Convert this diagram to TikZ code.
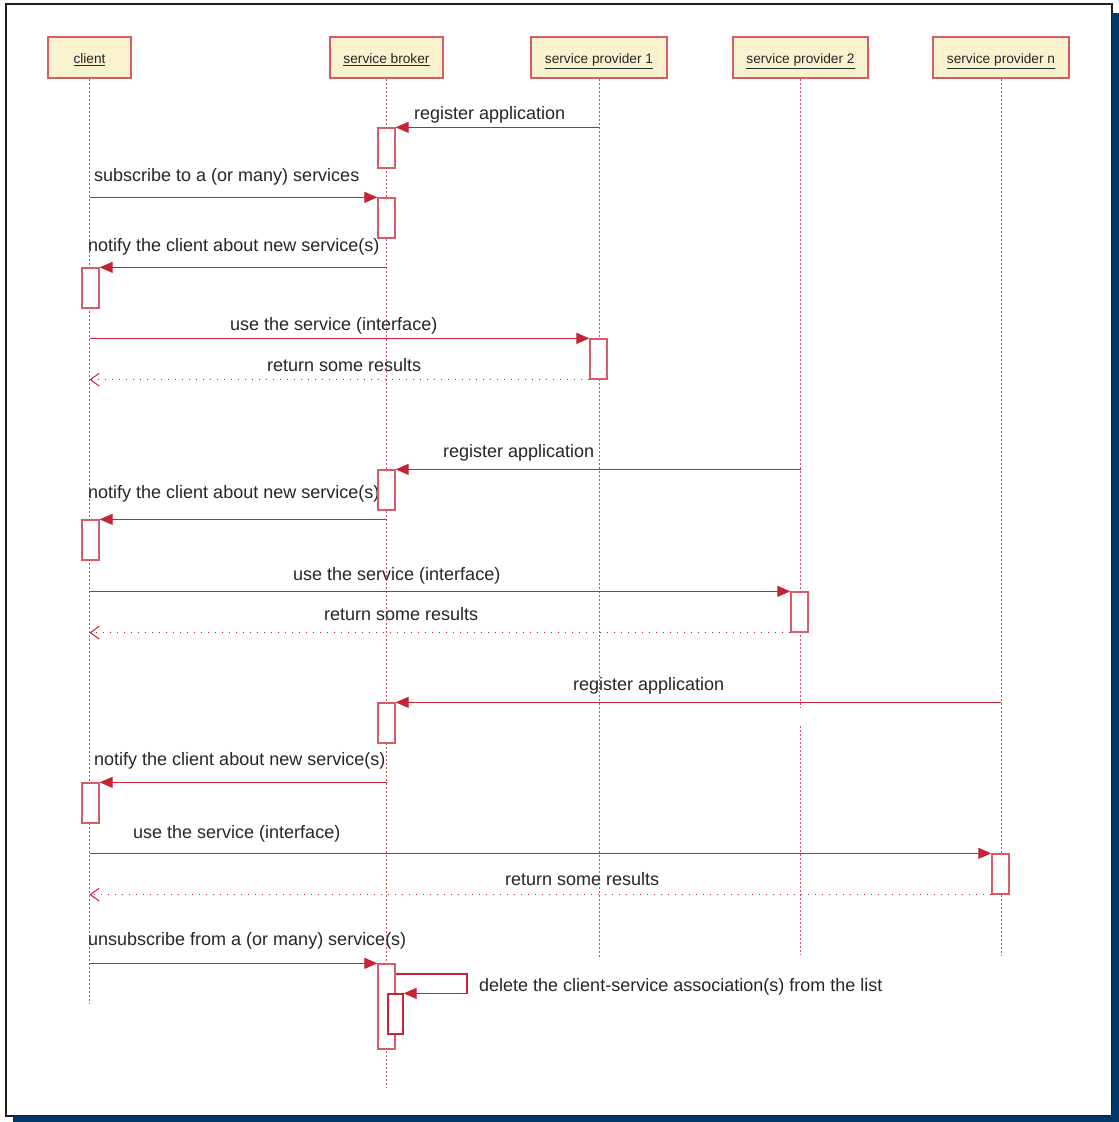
\documentclass[tikz,border=0pt]{standalone}
\usepackage{fontspec}
\setmainfont{Liberation Sans}
\usetikzlibrary{arrows.meta}
\definecolor{umlred}{RGB}{196,36,52}
\definecolor{lifered}{RGB}{206,78,94}
\definecolor{headfill}{RGB}{248,243,206}
\definecolor{headdraw}{RGB}{214,92,102}
\definecolor{navy}{RGB}{0,54,104}
\definecolor{ink}{RGB}{38,38,38}
\tikzset{
  head/.style={draw=headdraw, fill=headfill, line width=1.3pt, minimum height=41pt,
    inner sep=0, text height=14pt, text depth=1.5pt,
    font=\fontsize{13.7}{16}\selectfont, text=ink},
  life/.style={draw=lifered, line width=1pt, dash pattern=on 2pt off 2pt},
  act/.style={draw=headdraw, fill=white, line width=1.3pt, minimum width=17pt,
    minimum height=40pt, inner sep=0},
  msg/.style={draw=umlred, line width=1.2pt, -{Triangle[length=13pt,width=11pt]}},
  ret/.style={draw=umlred, line width=1pt, dash pattern=on 1.5pt off 5.5pt,
    -{Straight Barb[length=9pt,width=13pt,line width=1pt]}},
  lbl/.style={anchor=west, inner sep=0, yshift=-2pt, font=\fontsize{18}{21}\selectfont, text=ink}
}
\begin{document}
\begin{tikzpicture}[x=1pt,y=-1pt]
  \useasboundingbox (0,0) rectangle (1119,1122);
  % page frame with its shadow
  \fill[navy] (13,13) rectangle (1119,1122);
  \filldraw[fill=white, draw=black!88, line width=2.2pt] (6,4) rectangle (1112,1116);
  \fill[navy] (1112,13) rectangle (1119,1122);
  \fill[navy] (13,1116) rectangle (1119,1122);

  % participants
  \node[head, minimum width=83pt]  (cl)  at (89.5,57.5)  {\underline{client}};
  \node[head, minimum width=113pt] (br)  at (386.5,57.5) {\underline{service broker}};
  \node[head, minimum width=136pt] (sp1) at (599,57.5)   {\underline{service provider 1}};
  \node[head, minimum width=135pt] (sp2) at (800.5,57.5) {\underline{service provider 2}};
  \node[head, minimum width=136pt] (spn) at (1001,57.5)  {\underline{service provider n}};

  % lifelines
  \coordinate (clEnd)  at (89.5,1003);
  \coordinate (brEnd)  at (386.5,1087);
  \coordinate (sp1End) at (599,958);
  \coordinate (sp2Cut) at (800.5,708);
  \coordinate (sp2Res) at (800.5,726);
  \coordinate (sp2End) at (800.5,955);
  \coordinate (spnEnd) at (1001,955);
  \draw[life] (cl.south)  -- (clEnd);
  \draw[life] (br.south)  -- (brEnd);
  \draw[life] (sp1.south) -- (sp1End);
  \draw[life] (sp2.south) -- (sp2Cut);
  \draw[life] (sp2Res)    -- (sp2End);
  \draw[life] (spn.south) -- (spnEnd);

  % message labels
  \node[lbl] (t1)  at (414,113) {register application};
  \node[lbl] (t2)  at (94,175)  {subscribe to a (or many) services};
  \node[lbl] (t3)  at (88,245)  {notify the client about new service(s)};
  \node[lbl] (t4)  at (230,324) {use the service (interface)};
  \node[lbl] (t5)  at (267,363) {return some results};
  \node[lbl] (t6)  at (443,451) {register application};
  \node[lbl] (t7)  at (88,492)  {notify the client about new service(s)};
  \node[lbl] (t8)  at (293,574) {use the service (interface)};
  \node[lbl] (t9)  at (324,612) {return some results};
  \node[lbl] (t10) at (573,684) {register application};
  \node[lbl] (t11) at (94,759)  {notify the client about new service(s)};
  \node[lbl] (t12) at (133,832) {use the service (interface)};
  \node[lbl] (t13) at (505,877) {return some results};
  \node[lbl] (t14) at (88,939)  {unsubscribe from a (or many) service(s)};
  \node[lbl] (t15) at (479,985) {delete the client-service association(s) from the list};

  % activations
  \node[act] (b1) at (386.5,148) {};
  \node[act] (b2) at (386.5,218) {};
  \node[act] (c1) at (90.5,288)  {};
  \node[act] (p1) at (598.5,359) {};
  \node[act] (b3) at (386.5,490) {};
  \node[act] (c2) at (90.5,540)  {};
  \node[act] (p2) at (799.5,612) {};
  \node[act] (b4) at (386.5,723) {};
  \node[act] (c3) at (90.5,803)  {};
  \node[act] (pn) at (1000.5,874) {};
  \node[act, minimum height=85pt] (b5) at (386.5,1006.5) {};
  \node[act, minimum width=15pt, draw=umlred] (b6) at (395.5,1014) {};

  % messages
  \draw[msg] (sp1.south |- b1.north) -- (b1.north east);
  \draw[msg] (cl.south |- b2.north)  -- (b2.north west);
  \draw[msg] (br.south |- c1.north)  -- (c1.north east);
  \draw[msg] (cl.south |- p1.north)  -- (p1.north west);
  \draw[ret] (p1.south west) -- (cl.south |- p1.south);
  \draw[msg] (sp2.south |- b3.north) -- (b3.north east);
  \draw[msg] (br.south |- c2.north)  -- (c2.north east);
  \draw[msg] (cl.south |- p2.north)  -- (p2.north west);
  \draw[ret] (p2.south west) -- (cl.south |- p2.south);
  \draw[msg] (spn.south |- b4.north) -- (b4.north east);
  \draw[msg] (br.south |- c3.north)  -- (c3.north east);
  \draw[msg] (cl.south |- pn.north)  -- (pn.north west);
  \draw[ret] (pn.south west) -- (cl.south |- pn.south);
  \draw[msg] (cl.south |- b5.north)  -- (b5.north west);

  % self call on the broker
  \coordinate (selfTurn) at (467,974);
  \draw[msg] (b5.east |- selfTurn) -- (selfTurn) |- (b6.north east);
\end{tikzpicture}
\end{document}
